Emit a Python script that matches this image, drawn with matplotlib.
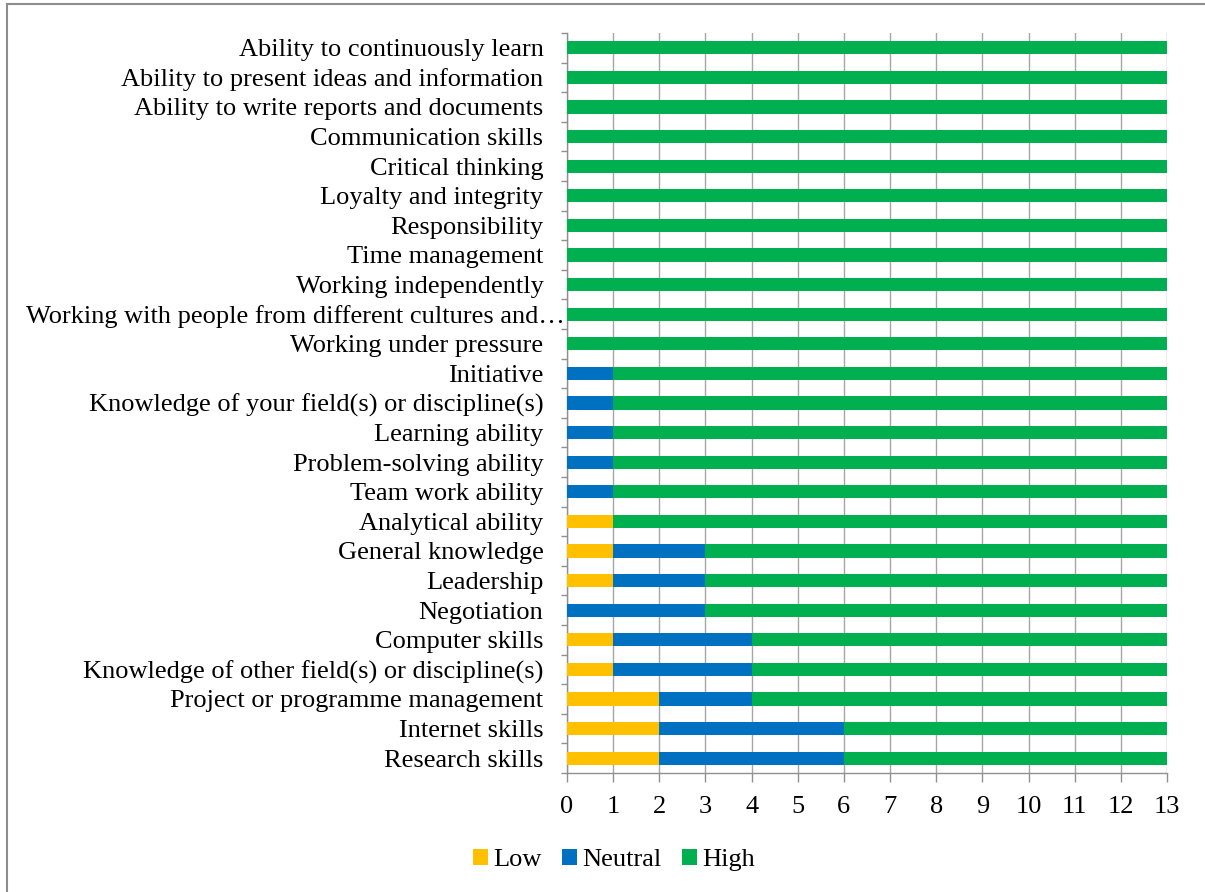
import matplotlib
matplotlib.use("Agg")
import matplotlib.pyplot as plt
from matplotlib.lines import Line2D
from matplotlib.transforms import ScaledTranslation
import numpy as np

plt.rcParams['font.family'] = ['Liberation Serif', 'DejaVu Serif']

categories = [
    "Ability to continuously learn",
    "Ability to present ideas and information",
    "Ability to write reports and documents",
    "Communication skills",
    "Critical thinking",
    "Loyalty and integrity",
    "Responsibility",
    "Time management",
    "Working independently",
    "Working with people from different cultures and\u2026",
    "Working under pressure",
    "Initiative",
    "Knowledge of your field(s) or discipline(s)",
    "Learning ability",
    "Problem-solving ability",
    "Team work ability",
    "Analytical ability",
    "General knowledge",
    "Leadership",
    "Negotiation",
    "Computer skills",
    "Knowledge of other field(s) or discipline(s)",
    "Project or programme management",
    "Internet skills",
    "Research skills",
]
low =     [0]*11 + [0, 0, 0, 0, 0, 1, 1, 1, 0, 1, 1, 2, 2, 2]
neutral = [0]*11 + [1, 1, 1, 1, 1, 0, 2, 2, 3, 3, 3, 2, 4, 4]
high =    [13]*11 + [12, 12, 12, 12, 12, 12, 10, 10, 10, 9, 9, 9, 7, 7]

series_names = ["Low", "Neutral", "High"]
colors = ["#FFC000", "#0070C0", "#00B050"]

FS = 19

fig = plt.figure(figsize=(12.05, 8.92), dpi=100)
ax = fig.add_axes([567/1205, 1-773/892, 600/1205, 740/892])

n = len(categories)
y = np.arange(n)[::-1]
left = np.zeros(n)
for vals, c, name in zip([low, neutral, high], colors, series_names):
    v = np.array(vals, dtype=float)
    ax.barh(y, v, left=left, height=0.45, color=c, label=name, zorder=3)
    left += v

ax.set_xlim(0, 13)
ax.set_ylim(-0.5, n-0.5)
ax.set_xticks(range(0, 14))
ax.set_yticks(y)
ax.set_yticklabels(categories, fontsize=FS)
ax.set_yticks(np.arange(-0.5, n, 1.0), minor=True)
ax.tick_params(axis='y', which='major', length=0, pad=17)
ax.tick_params(axis='y', which='minor', length=4, color='#909090', width=1)
ax.tick_params(axis='x', length=6.5, color='#909090', width=1, labelsize=FS, pad=10)
ax.xaxis.grid(True, color='#A6A6A6', linewidth=1, zorder=0)
ax.set_axisbelow(True)
for s in ['top', 'right']:
    ax.spines[s].set_visible(False)
for s in ['left', 'bottom']:
    ax.spines[s].set_color('#909090')
    ax.spines[s].set_linewidth(1)

# the truncated long label sits closer to the axis in the original
for lbl in ax.get_yticklabels():
    if lbl.get_text().endswith("\u2026"):
        lbl.set_transform(lbl.get_transform() + ScaledTranslation(0.21, 0, fig.dpi_scale_trans))

handles, labels = ax.get_legend_handles_labels()
fig.legend(handles, labels, loc='center', bbox_to_anchor=(614/1205, 1-860/892),
           ncol=3, frameon=False, fontsize=FS, handlelength=0.55, handleheight=0.55,
           handletextpad=0.2, columnspacing=0.8)

# outer border (left and top)
fig.add_artist(Line2D([7/1205, 7/1205], [0, 1-4/892], transform=fig.transFigure,
                      color='#8c8c8c', linewidth=1.5))
fig.add_artist(Line2D([7/1205, 1], [1-4/892, 1-4/892], transform=fig.transFigure,
                      color='#8c8c8c', linewidth=1.5))

fig.savefig("out.png", dpi=100)
